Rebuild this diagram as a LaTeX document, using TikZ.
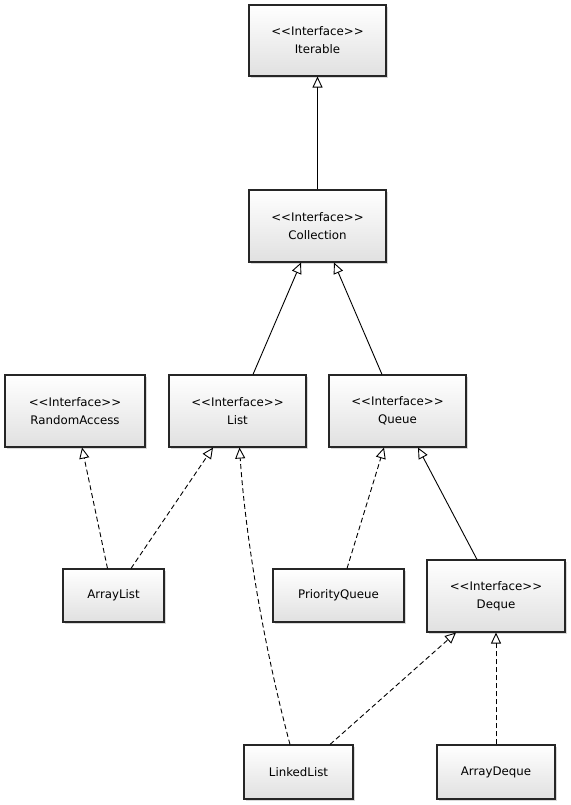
\documentclass[tikz,border=0pt]{standalone}
\usepackage{fontspec}
\setmainfont{DejaVu Sans}[Ligatures=TeXOff]
\usetikzlibrary{arrows.meta,shadows,calc}
\begin{document}
\begin{tikzpicture}[x=1pt,y=-1pt,
  cls/.style={draw=black!85, line width=1.1pt, inner sep=0pt, align=center,
    top color=white, bottom color=black!12,
    drop shadow={shadow xshift=2pt, shadow yshift=-2pt, fill=black, opacity=0.15},
    font=\fontsize{11.8}{18}\selectfont},
  inh/.style={line width=0.9pt, -{Triangle[open, length=11pt, width=10pt]}},
  impl/.style={inh, dash pattern=on 5pt off 3pt}]
\useasboundingbox (0,0) rectangle (570,805);
\node[cls, minimum width=137pt, minimum height=71pt] (iterable) at (317.5,40.5) {{<}{<}Interface{>}{>}\\Iterable};
\node[cls, minimum width=137pt, minimum height=72pt] (collection) at (317.5,226) {{<}{<}Interface{>}{>}\\Collection};
\node[cls, minimum width=140pt, minimum height=72pt] (randomaccess) at (75,411) {{<}{<}Interface{>}{>}\\RandomAccess};
\node[cls, minimum width=137pt, minimum height=72pt] (list) at (237.5,411) {{<}{<}Interface{>}{>}\\List};
\node[cls, minimum width=137pt, minimum height=72pt] (queue) at (397.5,411) {{<}{<}Interface{>}{>}\\Queue};
\node[cls, minimum width=101pt, minimum height=53pt] (arraylist) at (113.5,595.5) {ArrayList};
\node[cls, minimum width=131pt, minimum height=53pt] (priorityqueue) at (338.5,595.5) {PriorityQueue};
\node[cls, minimum width=138pt, minimum height=72pt] (deque) at (496,596) {{<}{<}Interface{>}{>}\\Deque};
\node[cls, minimum width=109pt, minimum height=54pt] (linkedlist) at (298.5,772) {LinkedList};
\node[cls, minimum width=118pt, minimum height=54pt] (arraydeque) at (496,772) {ArrayDeque};

\draw[inh] (collection.north) -- (iterable.south);
\draw[inh] ([xshift=15.5pt]list.north) -- ([xshift=-16.5pt]collection.south);
\draw[inh] ([xshift=-15.5pt]queue.north) -- ([xshift=16.5pt]collection.south);
\draw[impl] ([xshift=-6pt]arraylist.north) -- ([xshift=7pt]randomaccess.south);
\draw[impl] ([xshift=17.5pt]arraylist.north) -- ([xshift=-24.5pt]list.south);
\draw[impl] ([xshift=-8.5pt]linkedlist.north) .. controls (262,640) and (245,530) .. ([xshift=2pt]list.south);
\draw[impl] ([xshift=8.5pt]priorityqueue.north) -- ([xshift=-13.5pt]queue.south);
\draw[inh] ([xshift=-19pt]deque.north) -- ([xshift=20.5pt]queue.south);
\draw[impl] ([xshift=31.5pt]linkedlist.north) -- ([xshift=-40pt]deque.south);
\draw[impl] (arraydeque.north) -- (deque.south);
\end{tikzpicture}
\end{document}
